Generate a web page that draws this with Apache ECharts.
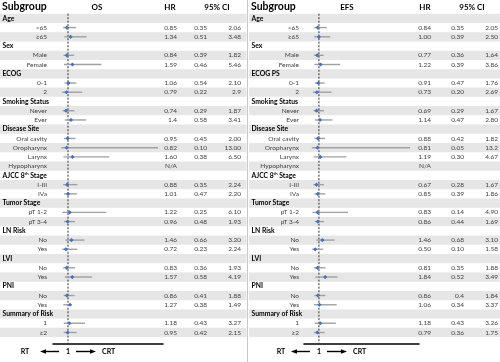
<!DOCTYPE html>
<html><head><meta charset="utf-8">
<script src="https://cdn.jsdelivr.net/npm/echarts@6/dist/echarts.min.js"></script>
<style>html,body{margin:0;padding:0;background:#fff}#c{width:500px;height:362px}</style>
</head><body><div id="c"></div>
<script>
// ---------- DATA ----------
const osLabels = ['Age','<65','≥65','Sex','Male','Female','ECOG','0-1','2','Smoking Status','Never','Ever','Disease Site','Oral cavity','Oropharynx','Larynx','Hypopharynx','AJCC 8th Stage','I-III','IVa','Tumor Stage','pT 1-2','pT 3-4','LN Risk','No','Yes','LVI','No','Yes','PNI','No','Yes','Summary of Risk','1','≥2'];
const efsLabels = ['Age','<65','≥65','Sex','Male','Female','ECOG PS','0-1','2','Smoking Status','Never','Ever','Disease Site','Oral cavity','Oropharynx','Larynx','Hypopharynx','AJCC 8th Stage','I-III','IVa','Tumor Stage','pT 1-2','pT 3-4','LN Risk','No','Yes','LVI','No','Yes','PNI','No','Yes','Summary of Risk','1','≥2'];

const osHR   = ['','0.85','1.34','','0.84','1.59','','1.06','0.79','','0.74','1.4','','0.95','0.82','1.60','N/A','','0.88','1.01','','1.22','0.96','','1.46','0.72','','0.83','1.57','','0.86','1.27','','1.18','0.95'];
const osLow  = ['','0.35','0.51','','0.39','0.46','','0.54','0.22','','0.29','0.58','','0.45','0.10','0.38','','','0.35','0.47','','0.25','0.48','','0.66','0.23','','0.36','0.58','','0.41','0.38','','0.43','0.42'];
const osHigh = ['','2.06','3.48','','1.82','5.46','','2.10','2.9','','1.87','3.41','','2.00','13.00','6.50','','','2.24','2.20','','6.10','1.93','','3.20','2.24','','1.93','4.19','','1.88','1.49','','3.27','2.15'];

const efsHR   = ['','0.84','1.00','','0.77','1.22','','0.91','0.73','','0.69','1.14','','0.88','0.81','1.19','N/A','','0.67','0.85','','0.83','0.86','','1.46','0.50','','0.81','1.84','','0.86','1.06','','1.18','0.79'];
const efsLow  = ['','0.35','0.39','','0.36','0.39','','0.47','0.20','','0.29','0.47','','0.42','0.05','0.30','','','0.28','0.39','','0.14','0.44','','0.68','0.10','','0.35','0.52','','0.4','0.34','','0.43','0.36'];
const efsHigh = ['','2.05','2.50','','1.64','3.86','','1.76','2.69','','1.67','2.80','','1.82','13.2','4.67','','','1.67','1.86','','4.90','1.69','','3.10','1.58','','1.88','3.49','','1.84','3.37','','3.26','1.75'];

const osHeaders  = ['Subgroup','OS','HR','95% CI'];
const efsHeaders = ['Subgroup','EFS','HR','95% CI'];
const refValue = 1;
const osAxisRange  = [-1, 13.67];
const efsAxisRange = [-1, 14.4];
const axisTexts = ['RT','1','CRT'];

// ---------- LAYOUT ----------
const FONT = 'Lato, "Liberation Sans", sans-serif';
const gridTop = 13.7, rowH = 9.24;
const panels = [
  {labels: osLabels, hr: osHR, lo: osLow, hi: osHigh, headers: osHeaders, range: osAxisRange,
   ox: 0, w: 246.5, gridLeft: 53, gridWidth: 110, labelRight: 47, hrRight: 177, loRight: 207, hiRight: 241,
   titleX: 97, hrHeadX: 170, ciHeadX: 217, rtX: 25, crtX: 102},
  {labels: efsLabels, hr: efsHR, lo: efsLow, hi: efsHigh, headers: efsHeaders, range: efsAxisRange,
   ox: 249, w: 251, gridLeft: 304, gridWidth: 115, labelRight: 299, hrRight: 431, loRight: 464, hiRight: 498,
   titleX: 347, hrHeadX: 425, ciHeadX: 472, rtX: 281, crtX: 353}
];
const nRows = osLabels.length;
const gridH = nRows * rowH;
const axisOffset = 7;
const ROWFONT = '6.5px ' + FONT;

const grids = [], xAxes = [], yAxes = [], series = [], graphics = [];

panels.forEach((p, pi) => {
  grids.push({left: p.gridLeft, width: p.gridWidth, top: gridTop, height: gridH, containLabel: false});
  xAxes.push({type: 'value', gridIndex: pi, min: p.range[0], max: p.range[1], offset: axisOffset,
    axisLine: {show: true, lineStyle: {color: '#000', width: 1.6}}, axisTick: {show: false},
    axisLabel: {show: false}, splitLine: {show: false}});
  yAxes.push({type: 'category', gridIndex: pi, inverse: true, data: p.labels.map((_, i) => String(i)),
    axisLine: {show: false}, axisTick: {show: false}, axisLabel: {show: false}, splitLine: {show: false}});

  series.push({
    type: 'custom', xAxisIndex: pi, yAxisIndex: pi, z: 2, clip: false, silent: true,
    encode: {y: 0},
    data: p.labels.map((_, i) => [i]),
    renderItem: function (params, api) {
      const i = api.value(0);
      const c = api.coord([refValue, i]);
      const y = c[1];
      const bh = api.size([0, 1])[1];
      const children = [];
      if (i % 2 === 0) {
        children.push({type: 'rect', z2: 0, shape: {x: p.ox, y: y - bh / 2, width: p.w, height: bh},
          style: {fill: '#e7e6e6'}});
      }
      const isGroup = p.hr[i] === '';
      const lab = p.labels[i];
      if (isGroup) {
        if (lab.indexOf('8th') >= 0) {
          children.push({type: 'text', z2: 20, style: {
            text: '{b|AJCC 8}{s|th}{b| Stage}', x: p.ox + 2.5, y: y, verticalAlign: 'middle', align: 'left',
            rich: {b: {font: 'bold 6.8px ' + FONT, fill: '#000'},
                   s: {font: 'bold 4.2px ' + FONT, fill: '#000', verticalAlign: 'top', padding: [0, 0, 3, 0]}}}});
        } else {
          children.push({type: 'text', z2: 20, style: {text: lab, x: p.ox + 2.5, y: y,
            font: 'bold 6.8px ' + FONT, fill: '#000', align: 'left', verticalAlign: 'middle'}});
        }
      } else {
        children.push({type: 'text', z2: 20, style: {text: lab, x: p.labelRight, y: y,
          font: ROWFONT, fill: '#404040', align: 'right', verticalAlign: 'middle'}});
        children.push({type: 'text', z2: 20, style: {text: p.hr[i], x: p.hrRight, y: y,
          font: ROWFONT, fill: '#404040', align: 'right', verticalAlign: 'middle'}});
        if (p.lo[i] !== '') {
          children.push({type: 'text', z2: 20, style: {text: p.lo[i], x: p.loRight, y: y,
            font: ROWFONT, fill: '#404040', align: 'right', verticalAlign: 'middle'}});
          children.push({type: 'text', z2: 20, style: {text: p.hi[i], x: p.hiRight, y: y,
            font: ROWFONT, fill: '#404040', align: 'right', verticalAlign: 'middle'}});
          const pl = api.coord([parseFloat(p.lo[i]), i]);
          const ph = api.coord([parseFloat(p.hi[i]), i]);
          const pc = api.coord([parseFloat(p.hr[i]), i]);
          children.push({type: 'line', z2: 10, shape: {x1: pl[0], y1: y, x2: ph[0], y2: y},
            style: {stroke: '#a0a0a0', lineWidth: 1.4}});
          children.push({type: 'polygon', z2: 15, shape: {points: [[pc[0], y - 2.1], [pc[0] + 2.1, y], [pc[0], y + 2.1], [pc[0] - 2.1, y]]},
            style: {fill: '#4472c4'}});
        }
      }
      return {type: 'group', children: children};
    }
  });

  series.push({
    type: 'custom', xAxisIndex: pi, yAxisIndex: pi, z: 2, clip: false, silent: true,
    encode: {x: 0},
    data: [[refValue]],
    renderItem: function (params, api) {
      const top = api.coord([refValue, 0]);
      const x = top[0];
      const bh = api.size([0, 1])[1];
      const y0 = top[1] - bh / 2;
      const y1 = gridTop + gridH + axisOffset;
      return {type: 'line', z2: 5, shape: {x1: x, y1: y0, x2: x, y2: y1},
        style: {stroke: '#333', lineWidth: 1, lineDash: [2, 1.5]}};
    }
  });

  const hy = 7.5;
  graphics.push({type: 'text', left: p.ox + 2, top: hy - 6, style: {text: p.headers[0], font: 'bold 10.5px ' + FONT, fill: '#000'}});
  [[p.headers[1], p.titleX], [p.headers[2], p.hrHeadX], [p.headers[3], p.ciHeadX]].forEach(h => {
    graphics.push({type: 'text', x: h[1], y: hy, style: {text: h[0], font: 'bold 8px ' + FONT, fill: '#000', align: 'center', verticalAlign: 'middle'}});
  });

  const by = 351.5;
  graphics.push({type: 'text', x: p.rtX, y: by, style: {text: axisTexts[0], font: 'bold 7px ' + FONT, fill: '#000', align: 'center', verticalAlign: 'middle'}});
  graphics.push({type: 'text', x: p.crtX, y: by, style: {text: axisTexts[2], font: 'bold 7px ' + FONT, fill: '#000', align: 'left', verticalAlign: 'middle'}});
});

function arrowRender(params, api) {
  const x = api.coord([refValue, 0])[0];
  const by = 351.5;
  return {type: 'group', children: [
    {type: 'text', style: {text: axisTexts[1], x: x, y: by, font: 'bold 7px ' + FONT, fill: '#000', align: 'center', verticalAlign: 'middle'}},
    {type: 'line', shape: {x1: x - 9, y1: by, x2: x - 24, y2: by}, style: {stroke: '#000', lineWidth: 1.4}},
    {type: 'polygon', shape: {points: [[x - 28, by], [x - 22, by - 2.2], [x - 22, by + 2.2]]}, style: {fill: '#000'}},
    {type: 'line', shape: {x1: x + 8, y1: by, x2: x + 24, y2: by}, style: {stroke: '#000', lineWidth: 1.4}},
    {type: 'polygon', shape: {points: [[x + 28, by], [x + 22, by - 2.2], [x + 22, by + 2.2]]}, style: {fill: '#000'}}
  ]};
}
[0, 1].forEach(pi => series.push({
  type: 'custom', xAxisIndex: pi, yAxisIndex: pi, z: 3, clip: false, silent: true, encode: {x: 0},
  data: [[refValue]], renderItem: arrowRender
}));

graphics.push({type: 'line', shape: {x1: 247.5, y1: 0, x2: 247.5, y2: 362}, style: {stroke: '#c8c8c8', lineWidth: 1}});

const chart = echarts.init(document.getElementById('c'), null, {renderer: 'canvas'});
chart.setOption({
  animation: false,
  backgroundColor: '#fff',
  grid: grids, xAxis: xAxes, yAxis: yAxes, series: series, graphic: graphics
});
</script></body></html>
